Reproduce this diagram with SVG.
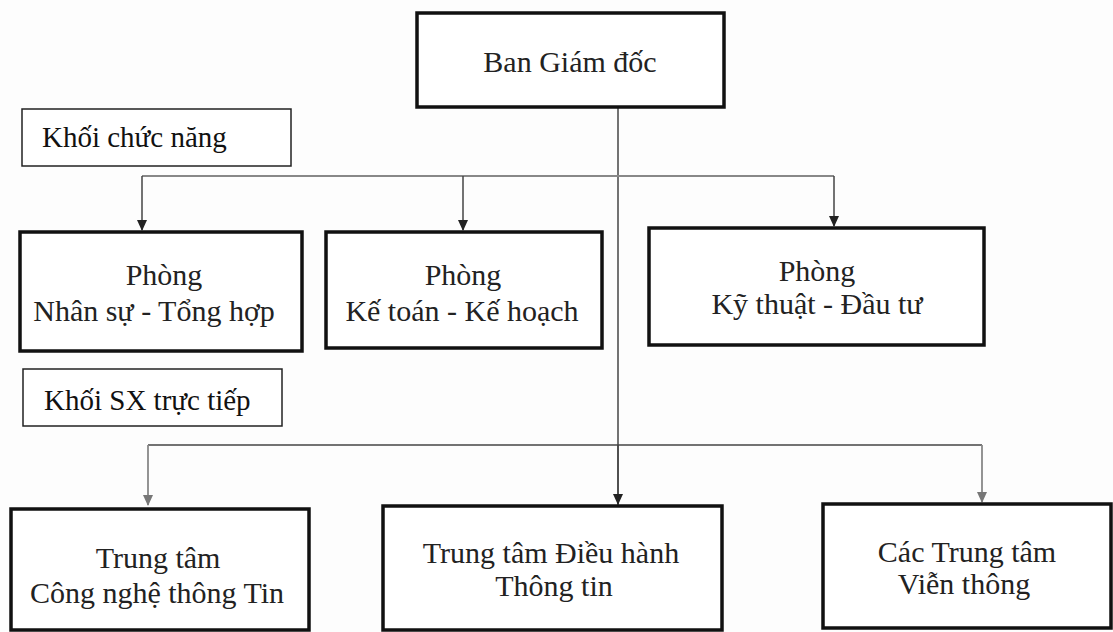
<svg xmlns="http://www.w3.org/2000/svg" width="1113" height="632" viewBox="0 0 1113 632">
<defs>
<style>
.box{fill:#fff;stroke:#111;stroke-width:3.5}
.lbl{fill:#fff;stroke:#222;stroke-width:1.5}
.t{font-family:"Liberation Serif","Times New Roman",serif;font-size:30px;fill:#222;text-anchor:middle}
.tl{font-family:"Liberation Serif","Times New Roman",serif;font-size:29px;fill:#111}
.ln{fill:none;stroke:#444;stroke-width:1.5}
.lg{fill:none;stroke:#888;stroke-width:1.8}
</style>
<marker id="ah" markerWidth="12" markerHeight="12" refX="10" refY="6" orient="auto" markerUnits="userSpaceOnUse" viewBox="0 0 12 12"><path d="M0,1 L11,6 L0,11 Z" fill="#222"/></marker>
<marker id="ahg" markerWidth="12" markerHeight="12" refX="10" refY="6" orient="auto" markerUnits="userSpaceOnUse" viewBox="0 0 12 12"><path d="M0,1 L11,6 L0,11 Z" fill="#777"/></marker>
</defs>
<rect width="1113" height="632" fill="#fdfdfd"/>
<g id="connectors">
<path class="ln" d="M618,107 V505"/>
<path class="lg" d="M142,176 H834"/>
<path class="ln" d="M142,176 V230" marker-end="url(#ah)"/>
<path class="ln" d="M463,176 V230" marker-end="url(#ah)"/>
<path class="ln" d="M834,176 V226" marker-end="url(#ah)"/>
<path class="ln" d="M148,445 H982"/>
<path class="lg" d="M148,445 V505" marker-end="url(#ahg)"/>
<path class="lg" d="M982,445 V502" marker-end="url(#ahg)"/>
<path class="ln" d="M618,445 V504" marker-end="url(#ah)"/>
</g>
<g id="ban-giam-doc">
<rect class="box" x="417" y="13" width="307" height="94"/>
<text class="t" x="570" y="72">Ban Giám đốc</text>
</g>
<g id="khoi-chuc-nang">
<rect class="lbl" x="22" y="109" width="269" height="57"/>
<text class="tl" x="42" y="147">Khối chức năng</text>
</g>
<g id="phong-nhan-su">
<rect class="box" x="20" y="232" width="282" height="119"/>
<text class="t" x="164" y="285">Phòng</text>
<text class="t" x="154" y="321">Nhân sự - Tổng hợp</text>
</g>
<g id="phong-ke-toan">
<rect class="box" x="326" y="232" width="276" height="116"/>
<text class="t" x="463" y="285">Phòng</text>
<text class="t" x="462" y="321">Kế toán - Kế hoạch</text>
</g>
<g id="phong-ky-thuat">
<rect class="box" x="649" y="228" width="335" height="117"/>
<text class="t" x="817" y="281">Phòng</text>
<text class="t" x="817" y="314">Kỹ thuật - Đầu tư</text>
</g>
<g id="khoi-sx">
<rect class="lbl" x="23" y="369" width="259" height="57"/>
<text class="tl" x="44" y="410">Khối SX trực tiếp</text>
</g>
<g id="tt-cntt">
<rect class="box" x="11" y="509" width="298" height="121"/>
<text class="t" x="158" y="568">Trung tâm</text>
<text class="t" x="157" y="603">Công nghệ thông Tin</text>
</g>
<g id="tt-dieu-hanh">
<rect class="box" x="383" y="506" width="339" height="124"/>
<text class="t" x="551" y="563">Trung tâm Điều hành</text>
<text class="t" x="554" y="596">Thông tin</text>
</g>
<g id="tt-vien-thong">
<rect class="box" x="823" y="504" width="288" height="124"/>
<text class="t" x="967" y="562">Các Trung tâm</text>
<text class="t" x="964" y="594">Viễn thông</text>
</g>
</svg>
